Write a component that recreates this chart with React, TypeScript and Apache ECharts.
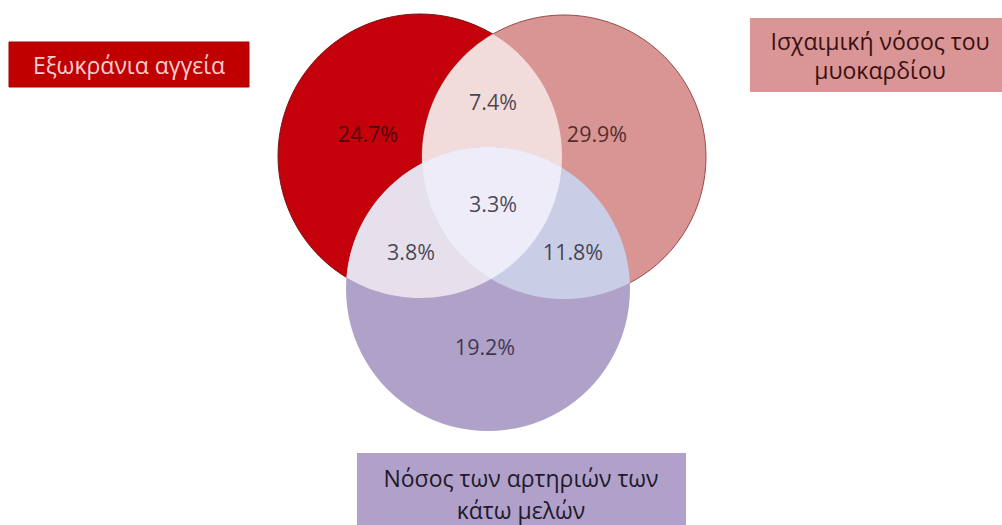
import React, { useEffect, useRef } from "react";
import * as echarts from "echarts";

// ---- Data ----
const setNames = [
  "Εξωκράνια αγγεία",
  "Ισχαιμική νόσος του\nμυοκαρδίου",
  "Νόσος των αρτηριών των\nκάτω μελών",
];
const regionKeys = ["A", "B", "C", "AB", "AC", "BC", "ABC"];
const regionValues = [24.7, 29.9, 19.2, 7.4, 3.8, 11.8, 3.3];

// ---- Layout (axis units, 1 unit = 1 px) ----
const circleCenters: [number, number][] = [
  [420, 156],
  [564, 157],
  [488, 289],
];
const circleRadius = 142;
const labelPos: [number, number][] = [
  [368, 133],
  [597, 133],
  [485, 346],
  [493, 101],
  [411, 251],
  [573, 251],
  [493, 203],
];
const regionColors = [
  "#C4000A",
  "#D99494",
  "#B0A1C8",
  "#F2DCDB",
  "#E5E0EB",
  "#C9CEE6",
  "#EDECF8",
];
const labelColors = [
  "#2E070B",
  "#2E0F0F",
  "#1E1830",
  "#1E1A2A",
  "#1E1A2A",
  "#1E1A2A",
  "#1E1A2A",
];

type P = [number, number];

function intersect(c1: P, r1: number, c2: P, r2: number): [P, P] {
  const dx = c2[0] - c1[0];
  const dy = c2[1] - c1[1];
  const d = Math.sqrt(dx * dx + dy * dy);
  const a = (r1 * r1 - r2 * r2 + d * d) / (2 * d);
  const h = Math.sqrt(Math.max(0, r1 * r1 - a * a));
  const mx = c1[0] + (a * dx) / d;
  const my = c1[1] + (a * dy) / d;
  return [
    [mx + (h * -dy) / d, my + (h * dx) / d],
    [mx - (h * -dy) / d, my - (h * dx) / d],
  ];
}

function arcPts(c: P, r: number, from: P, to: P, n = 48): P[] {
  const a0 = Math.atan2(from[1] - c[1], from[0] - c[0]);
  const a1 = Math.atan2(to[1] - c[1], to[0] - c[0]);
  let da = a1 - a0;
  while (da > Math.PI) da -= 2 * Math.PI;
  while (da <= -Math.PI) da += 2 * Math.PI;
  const out: P[] = [];
  for (let i = 0; i <= n; i++) {
    const t = a0 + (da * i) / n;
    out.push([c[0] + r * Math.cos(t), c[1] + r * Math.sin(t)]);
  }
  return out;
}

function dist(a: P, b: P) {
  return Math.hypot(a[0] - b[0], a[1] - b[1]);
}

export default function App() {
  const ref = useRef<HTMLDivElement>(null);

  useEffect(() => {
    if (!ref.current) return;
    const chart = echarts.init(ref.current, undefined, { renderer: "svg" });

    const renderItem = (params: any, api: any) => {
      const idx = params.dataIndex;
      const C: P[] = circleCenters.map((c) => api.coord(c) as P);
      const r = api.size([circleRadius, 0])[0];
      const fill = regionColors[idx];
      if (idx < 3) {
        const strokes = ["#7A1515", "#9A4A4A", "transparent"];
        return {
          type: "circle",
          shape: { cx: C[idx][0], cy: C[idx][1], r },
          style: { fill, stroke: strokes[idx], lineWidth: 1 },
        };
      }
      const pairs: Record<number, [number, number]> = { 3: [0, 1], 4: [0, 2], 5: [1, 2] };
      if (idx < 6) {
        const [i, j] = pairs[idx];
        const [p, q] = intersect(C[i], r, C[j], r);
        const pts = [...arcPts(C[i], r, p, q), ...arcPts(C[j], r, q, p)];
        return { type: "polygon", shape: { points: pts }, style: { fill } };
      }
      // triple region
      const inner = (i: number, j: number, k: number): P => {
        const [p, q] = intersect(C[i], r, C[j], r);
        return dist(p, C[k]) < dist(q, C[k]) ? p : q;
      };
      const vAB = inner(0, 1, 2);
      const vAC = inner(0, 2, 1);
      const vBC = inner(1, 2, 0);
      const pts = [
        ...arcPts(C[0], r, vAB, vAC),
        ...arcPts(C[2], r, vAC, vBC),
        ...arcPts(C[1], r, vBC, vAB),
      ];
      return { type: "polygon", shape: { points: pts }, style: { fill } };
    };

    const option: any = {
      animation: false,
      backgroundColor: "#ffffff",
      grid: { left: 0, right: 0, top: 0, bottom: 0 },
      xAxis: { type: "value", min: 0, max: 1002, show: false },
      yAxis: { type: "value", min: 0, max: 525, inverse: true, show: false },
      series: [
        {
          type: "custom",
          renderItem,
          data: regionKeys.map((k, i) => ({ name: k, value: [i, regionValues[i]] })),
          silent: true,
          z: 1,
        },
        {
          type: "scatter",
          symbolSize: 0,
          silent: true,
          z: 5,
          data: regionKeys.map((k, i) => ({
            name: k,
            value: [labelPos[i][0], labelPos[i][1], regionValues[i]],
            label: {
              show: true,
              position: "inside",
              formatter: regionValues[i].toFixed(1) + "%",
              color: labelColors[i],
              fontFamily: "Open Sans",
              fontSize: 21.5,
            },
          })),
        },
      ],
      graphic: [
        {
          type: "rect",
          shape: { x: 9, y: 42, width: 240, height: 45 },
          style: { fill: "#C00000", stroke: "#A80000", lineWidth: 1 },
        },
        {
          type: "text",
          x: 129,
          y: 65,
          style: {
            text: setNames[0],
            fill: "#F6D0D0",
            font: "23px 'Open Sans'",
            align: "center",
            verticalAlign: "middle",
          },
        },
        {
          type: "rect",
          shape: { x: 750, y: 18, width: 260, height: 74 },
          style: { fill: "#DA9696" },
        },
        {
          type: "text",
          x: 880,
          y: 55,
          style: {
            text: setNames[1],
            fill: "#3A1010",
            font: "23px 'Open Sans'",
            align: "center",
            verticalAlign: "middle",
            lineHeight: 29,
          },
        },
        {
          type: "rect",
          shape: { x: 357, y: 453, width: 329, height: 80 },
          style: { fill: "#B1A1CA" },
        },
        {
          type: "text",
          x: 521,
          y: 494,
          style: {
            text: setNames[2],
            fill: "#1E1A2A",
            font: "23px 'Open Sans'",
            align: "center",
            verticalAlign: "middle",
            lineHeight: 32,
          },
        },
      ],
    };
    chart.setOption(option);
    return () => chart.dispose();
  }, []);

  return (
    <div
      ref={ref}
      style={{ position: "absolute", left: 0, top: 0, width: 1002, height: 525, background: "#fff" }}
    />
  );
}
